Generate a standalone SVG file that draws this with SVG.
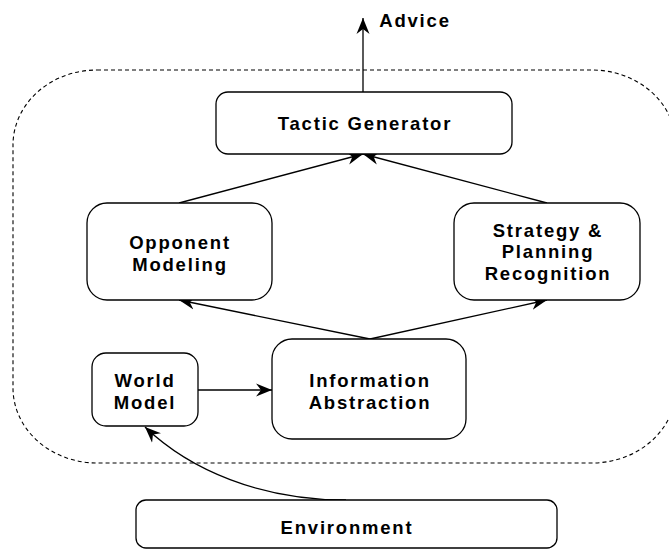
<svg xmlns="http://www.w3.org/2000/svg" width="669" height="549" viewBox="0 0 669 549">
<style>
.box{fill:#fff;stroke:#000;stroke-width:1.3}
.t{font-family:"Liberation Sans",Arial,sans-serif;font-weight:bold;font-size:18.5px;letter-spacing:1.8px;text-anchor:middle;fill:#000}
.c{fill:none;stroke:#000;stroke-width:1.3}
</style>
<defs>
<marker id="ah" markerUnits="userSpaceOnUse" markerWidth="18" markerHeight="14" refX="16" refY="7" orient="auto">
<path d="M0,0.5 L16,7 L0,13.5 L5,7 z" fill="#000"/>
</marker>
</defs>
<rect x="13" y="70" width="663" height="393" rx="84" ry="75" fill="none" stroke="#000" stroke-width="1.1" stroke-dasharray="4,3"/>
<g id="connectors">
<path class="c" d="M363,92 L363,18" marker-end="url(#ah)"/>
<path class="c" d="M179,203 L363,154" marker-end="url(#ah)"/>
<path class="c" d="M547,203 L363,154" marker-end="url(#ah)"/>
<path class="c" d="M370,339 L179,300" marker-end="url(#ah)"/>
<path class="c" d="M370,339 L547,300" marker-end="url(#ah)"/>
<path class="c" d="M198,390 L272,390" marker-end="url(#ah)"/>
<path class="c" d="M346,500 C260,500 190,470 145,427" marker-end="url(#ah)"/>
</g>
<g id="advice"><text class="t" x="415" y="27">Advice</text></g>
<g id="tactic">
<rect class="box" x="216" y="92" width="296" height="62" rx="12"/>
<text class="t" x="365" y="130">Tactic Generator</text>
</g>
<g id="opponent">
<rect class="box" x="87" y="203" width="185" height="97" rx="20"/>
<text class="t" x="180" y="249">Opponent</text>
<text class="t" x="180" y="271">Modeling</text>
</g>
<g id="strategy">
<rect class="box" x="454" y="203" width="186" height="97" rx="20"/>
<text class="t" x="548" y="237">Strategy &amp;</text>
<text class="t" x="548" y="258">Planning</text>
<text class="t" x="548" y="280">Recognition</text>
</g>
<g id="world">
<rect class="box" x="92" y="353" width="106" height="73" rx="14"/>
<text class="t" x="145" y="387">World</text>
<text class="t" x="145" y="409">Model</text>
</g>
<g id="info">
<rect class="box" x="272" y="339" width="194" height="100" rx="20"/>
<text class="t" x="370" y="387">Information</text>
<text class="t" x="370" y="409">Abstraction</text>
</g>
<g id="environment">
<rect class="box" x="136" y="500" width="421" height="48" rx="10"/>
<text class="t" x="347" y="534">Environment</text>
</g>
</svg>
